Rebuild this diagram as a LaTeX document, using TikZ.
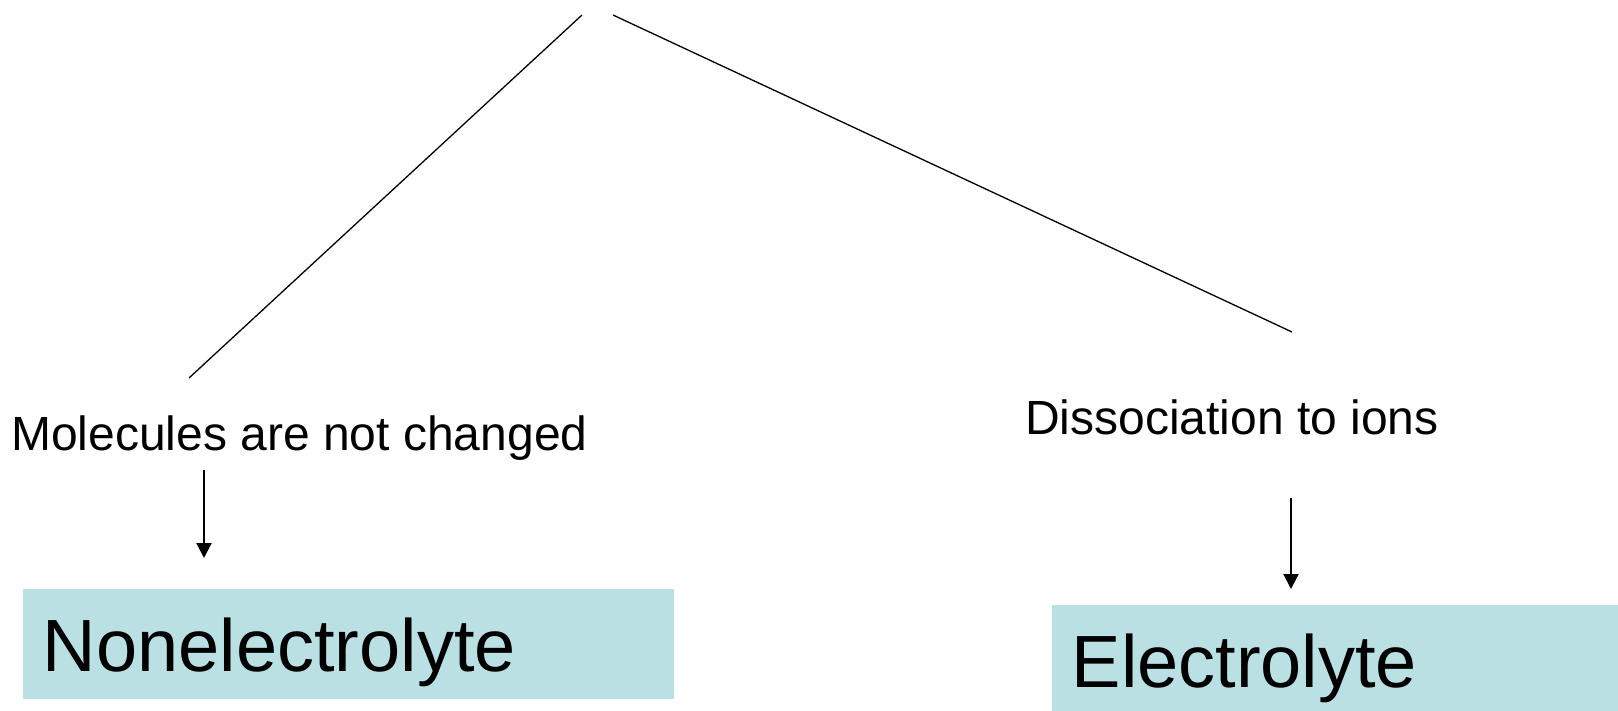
\documentclass[tikz,border=0pt]{standalone}
\usepackage{fontspec}
\setmainfont{Liberation Sans}
\usetikzlibrary{arrows.meta}
\definecolor{boxfill}{HTML}{BBE0E3}
\begin{document}
\begin{tikzpicture}[x=1pt,y=-1pt,
  branch/.style={line width=1.3pt},
  down/.style={line width=2.2pt,-{Triangle[width=15pt,length=15pt]}},
  caption/.style={anchor=base west,inner sep=0pt,font=\fontsize{48}{58}\selectfont},
  result/.style={fill=boxfill,anchor=north west,inner xsep=20pt,inner ysep=0pt,
    minimum height=110pt,text height=54pt,text depth=0pt,align=left,
    font=\fontsize{74}{88}\selectfont}]
\useasboundingbox (0,0) rectangle (1618,710);

% branch lines from the top
\coordinate (topL) at (582,15);
\coordinate (topR) at (613,15);
\coordinate (endL) at (189,378);
\coordinate (endR) at (1292,332);
\draw[branch] (topL) -- (endL);
\draw[branch] (topR) -- (endR);

% captions
\node[caption] (mol) at (11,450) {Molecules are not changed};
\node[caption] (dis) at (1025,434) {Dissociation to ions};

% result boxes
\node[result,text width=611.5pt] (non) at (22.7,589) {Nonelectrolyte};
\node[result,text width=550pt] (ele) at (1051.5,605) {Electrolyte};

% arrows
\coordinate (a1s) at (204,469.5);
\coordinate (a1e) at (204,558);
\coordinate (a2s) at (1291,498);
\coordinate (a2e) at (1291,589);
\draw[down] (a1s) -- (a1e);
\draw[down] (a2s) -- (a2e);
\end{tikzpicture}
\end{document}
